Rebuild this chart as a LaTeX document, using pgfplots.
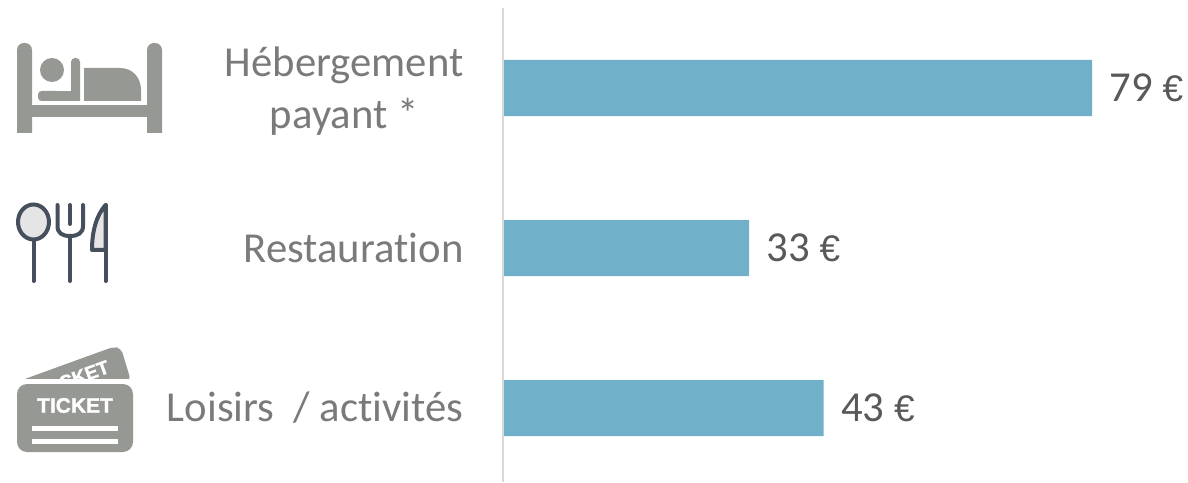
\documentclass[border=0pt]{standalone}
\usepackage{fontspec}
\setmainfont[Ligatures=NoCommon]{Carlito}
\newfontfamily\tick[BoldFeatures={FakeBold=1.5}]{Liberation Sans}
\newfontfamily\eurofont{Liberation Sans}
\usepackage{pgfplots}
\pgfplotsset{compat=1.18}
\definecolor{barc}{HTML}{70B0C9}
\definecolor{lab}{HTML}{7A7A7A}
\definecolor{val}{HTML}{595959}
\definecolor{ic}{HTML}{969893}
\definecolor{cut}{HTML}{46505C}
\begin{document}
\begin{tikzpicture}[x=1pt,y=1pt]
\path[use as bounding box] (0,0) rectangle (1188,482);
\begin{axis}[
  at={(503pt,0pt)},anchor=south west,
  scale only axis,width=685pt,height=474pt,
  xmin=0,xmax=91.87,ymin=-0.5,ymax=2.4625,
  y dir=reverse,
  axis x line=none,
  axis y line=left,
  axis line style={draw=none},
  clip=false,
  ytick={0,1,2},
  yticklabels={{\rule{0pt}{35pt}Hébergement\\payant *},{Restauration},{Loisirs \ / activités}},
  major tick length=0pt,
  yticklabel style={align=center,anchor=east,xshift=-36pt,font=\fontsize{42.7}{52}\selectfont,text=lab},
  xbar,bar width=56pt,
  nodes near coords={\pgfmathprintnumber{\pgfplotspointmeta}~{\eurofont\fontsize{37}{37}\selectfont €}},
  point meta=x,
  /pgf/number format/assume math mode=true,
  nodes near coords style={font=\fontsize{42.7}{46}\selectfont,text=val,anchor=west,xshift=14pt},
]
\addplot[fill=barc,draw=none] coordinates {(79,0) (33,1) (43,2)};
\end{axis}
\draw[color=black!15,line width=1.5pt] (503,0) -- (503,474);
\begin{scope}[shift={(0,482)},yscale=-1]
 % bed
 \fill[ic,rounded corners=7pt] (17,150) -- (17,43) -- (32,43) -- (32,150) -- cycle;
 \fill[ic,rounded corners=7pt] (147,150) -- (147,43) -- (162,43) -- (162,150) -- cycle;
 \fill[white] (0,133) rectangle (180,155);
 \fill[ic] (25,105) rectangle (155,117);
 \fill[ic] (52,70) circle (12);
 \fill[ic,rounded corners=3.5pt] (38,91) rectangle (60,101);
 \fill[ic,rounded corners=4pt] (71,108) -- (71,58) -- (80,58) -- (80,108) -- cycle;
 \fill[white] (60,101.5) rectangle (90,105);
 \fill[ic] (50,91) rectangle (75,101);
 \fill[ic] (84,101) -- (84,68) -- (120,68) .. controls (133,68) and (141,78) .. (141,90) -- (141,101) -- cycle;
 % cutlery
 \draw[cut,line width=4pt,fill=black!10!white] (33.5,222) ellipse (15.5 and 17.5);
 \draw[cut,line width=4pt,line cap=round] (33.5,240) -- (33.5,281);
 \draw[cut,line width=4pt,line cap=round] (57.5,205) -- (57.5,226) .. controls (57.5,233) and (62,236) .. (70,236) .. controls (78,236) and (83,233) .. (83,226) -- (83,205);
 \draw[cut,line width=4pt,line cap=round] (70,205) -- (70,224);
 \draw[cut,line width=4pt,line cap=round] (70,236) -- (70,281);
 \draw[cut,line width=4pt,line cap=round,line join=round,fill=black!10!white] (105.5,205) .. controls (96,216) and (92,232) .. (92,250) -- (105.5,250) -- cycle;
 \draw[cut,line width=4pt,line cap=round] (105.5,205) -- (105.5,281);
 % ticket
 \begin{scope}
  \clip (0,340) rectangle (180,378.5);
  \fill[ic,rounded corners=5pt] (22,380) -- (113,347) -- (121,348) -- (131,381) -- cycle;
  \node[white,rotate=20,font=\tick\bfseries\fontsize{19}{19}\selectfont] at (84,375) {CKET};
 \end{scope}
 \fill[ic,rounded corners=10pt] (17,384) rectangle (133,452);
 \node[white,font=\tick\bfseries\fontsize{21}{21}\selectfont] at (75,405.5) {TICKET};
 \fill[white] (32,426) rectangle (118,431);
 \fill[white] (32,439) rectangle (118,444);
\end{scope}
\end{tikzpicture}
\end{document}
